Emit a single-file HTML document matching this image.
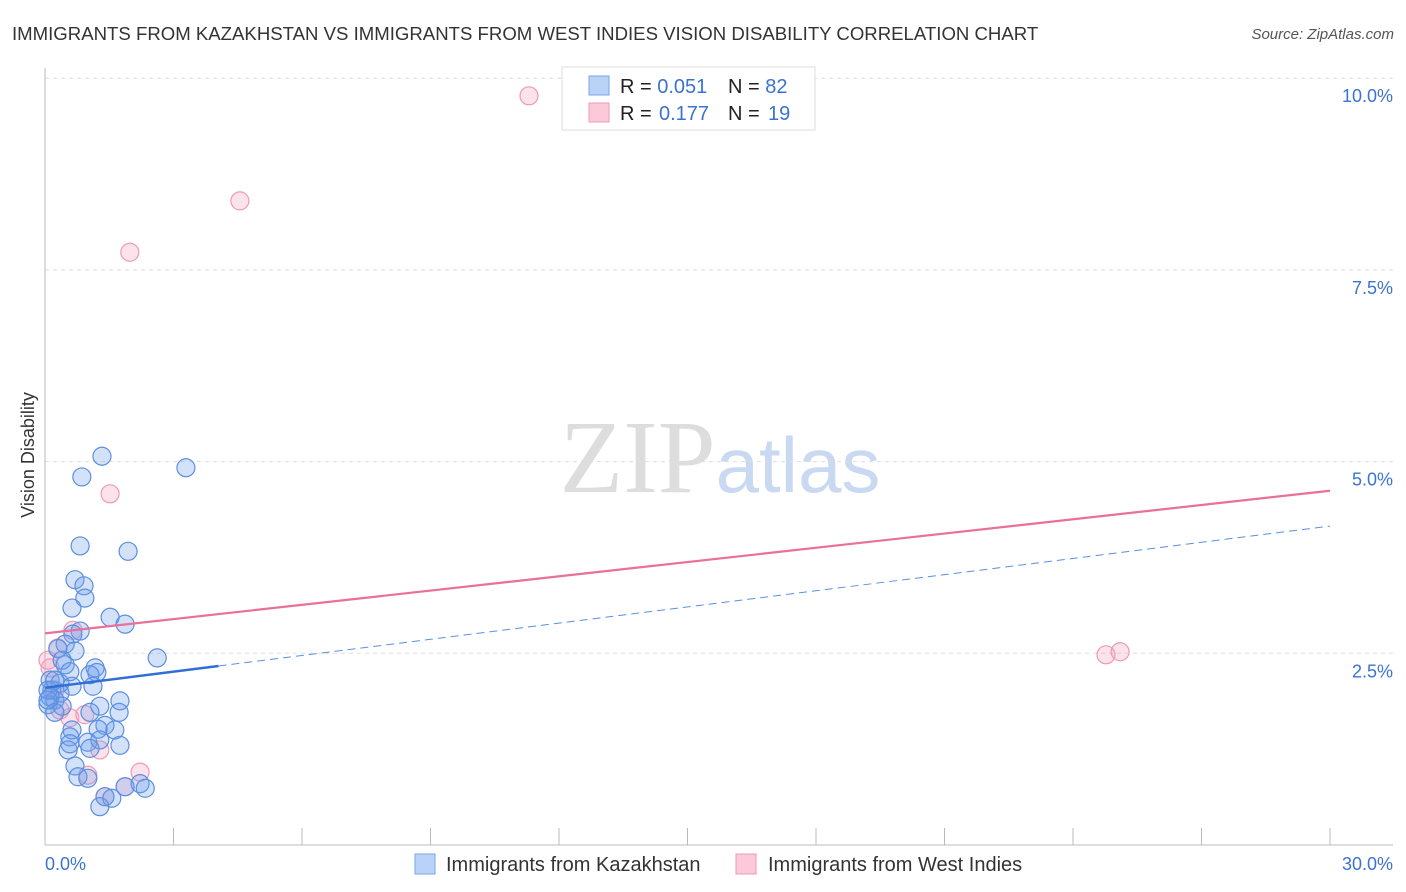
<!DOCTYPE html>
<html><head><meta charset="utf-8"><style>
body{margin:0;background:#fff;font-family:"Liberation Sans",sans-serif;}
svg{display:block}
</style></head><body>
<svg id="chart" width="1406" height="892">
<text x="12" y="40" font-size="18.6" fill="#333">IMMIGRANTS FROM KAZAKHSTAN VS IMMIGRANTS FROM WEST INDIES VISION DISABILITY CORRELATION CHART</text>
<text x="1394" y="39" font-size="15" fill="#555" font-style="italic" text-anchor="end">Source: ZipAtlas.com</text>
<text x="34" y="455" font-size="18" fill="#333" text-anchor="middle" transform="rotate(-90 34 455)">Vision Disability</text>
<text x="720" y="492" font-size="104" fill="#ddd" text-anchor="middle" font-family="Liberation Serif">ZIP<tspan fill="#c9d9f2" font-family="Liberation Sans" font-size="78">atlas</tspan></text>
<g id="grid"></g><g id="pts"></g><g id="lines"></g>
<g>
<rect x="562" y="67" width="253" height="63" fill="#fff" stroke="#ddd"/>
<rect x="589" y="76" width="20" height="19" fill="#b8d3f7" stroke="#7aa6e6"/>
<rect x="589" y="103" width="20" height="19" fill="#fbc9d8" stroke="#ee9ab6"/>
<text x="620" y="93" font-size="20" fill="#222">R = <tspan fill="#3b73d1">0.051</tspan><tspan x="728">N = </tspan><tspan fill="#3b73d1">82</tspan></text>
<text x="620" y="120" font-size="20" fill="#222">R = <tspan fill="#3b73d1" x="659">0.177</tspan><tspan x="728">N = </tspan><tspan fill="#3b73d1" x="768">19</tspan></text>
</g>
<g>
<rect x="415" y="854" width="20" height="20" fill="#b8d3f7" stroke="#7aa6e6"/>
<text x="446" y="871" font-size="20" fill="#333">Immigrants from Kazakhstan</text>
<rect x="736" y="854" width="20" height="20" fill="#fbc9d8" stroke="#ee9ab6"/>
<text x="768" y="871" font-size="20" fill="#333">Immigrants from West Indies</text>
</g>
</svg>
<script>
const yTicks=[2.5,5.0,7.5,10.0];
const xTickLabels=["0.0%","30.0%"];
const blueX=[1.33,0.86,3.29,0.82,1.94,0.70,0.91,0.93,0.63,1.52,1.87,0.82,0.65,0.47,0.70,0.30,2.62,0.47,1.17,1.21,1.05,0.12,0.35,0.63,1.12,0.16,0.35,0.12,0.23,1.75,0.07,0.40,1.28,1.05,1.73,0.23,1.40,1.63,1.24,0.63,0.58,0.58,1.00,1.28,1.75,0.54,1.05,0.70,0.77,1.00,1.87,2.22,2.34,1.40,1.28,1.56,0.07,0.07,0.23,0.40,0.58];
const blueY=[5.07,4.80,4.92,3.90,3.83,3.46,3.38,3.22,3.09,2.97,2.88,2.79,2.75,2.62,2.53,2.56,2.44,2.35,2.31,2.25,2.22,2.15,2.11,2.07,2.07,2.02,1.98,1.93,1.89,1.88,1.83,1.81,1.81,1.73,1.73,1.73,1.56,1.50,1.51,1.50,1.41,1.32,1.34,1.37,1.30,1.24,1.26,1.03,0.89,0.87,0.76,0.80,0.74,0.63,0.50,0.61,2.02,1.89,2.15,2.41,2.26];
const pinkX=[11.30,4.55,1.98,1.52,24.77,25.10,0.65,0.30,0.12,0.23,0.35,0.58,1.28,1.00,2.22,1.87,1.40,0.07,0.93];
const pinkY=[9.77,8.40,7.73,4.58,2.48,2.52,2.80,2.57,2.31,2.02,1.76,1.66,1.24,0.91,0.95,0.76,0.63,2.41,1.70];
const blueTrend=[2.05,0.0703];
const pinkTrend=[2.76,0.062];
const blueSolidEnd=4.05;
const NS="http://www.w3.org/2000/svg";
const X=v=>45+v/30*1285, Y=v=>845-v/2.5*191.7;
function mk(t,a,p){const e=document.createElementNS(NS,t);for(const k in a)e.setAttribute(k,a[k]);document.getElementById(p).appendChild(e);return e;}
yTicks.forEach(t=>{
 const l=mk('line',{x1:45,x2:1393,y1:Y(t),y2:Y(t),stroke:'#ddd','stroke-dasharray':'4,4'},'grid');
 
 
 const tx=mk('text',{x:1393,y:Y(t)+24,'font-size':18,fill:'#3b73d1','text-anchor':'end'},'grid');
 tx.textContent=t.toFixed(1)+'%';
 
 
});
mk('line',{x1:45,x2:45,y1:68,y2:845,stroke:'#bbb'},'grid');
mk('line',{x1:45,x2:1393,y1:845,y2:845,stroke:'#bbb'},'grid');
for(let i=1;i<=10;i++){const tk=mk('line',{x1:X(i*3),x2:X(i*3),y1:828,y2:845,stroke:'#bbb'},'grid');
 
 }
const xl0=mk('text',{x:45,y:870,'font-size':18,fill:'#3b73d1'},'grid');xl0.textContent=xTickLabels[0];


const xl1=mk('text',{x:1393,y:870,'font-size':18,fill:'#3b73d1','text-anchor':'end'},'grid');xl1.textContent=xTickLabels[1];


pinkX.forEach((x,i)=>{const c=mk('circle',{cx:X(x),cy:Y(pinkY[i]),r:9,fill:'rgba(245,160,190,0.3)',stroke:'#ee9ab6','stroke-width':1.2},'pts');
 
 });
blueX.forEach((x,i)=>{const c=mk('circle',{cx:X(x),cy:Y(blueY[i]),r:9,fill:'rgba(110,160,235,0.3)',stroke:'#5b8fe0','stroke-width':1.2},'pts');
 
 });
const by=x=>blueTrend[0]+blueTrend[1]*x, py=x=>pinkTrend[0]+pinkTrend[1]*x;
const b1=mk('line',{x1:X(0),y1:Y(by(0)),x2:X(blueSolidEnd),y2:Y(by(blueSolidEnd)),stroke:'#2f6fd6','stroke-width':2.5},'lines');


const b2=mk('line',{x1:X(blueSolidEnd),y1:Y(by(blueSolidEnd)),x2:X(30),y2:Y(by(30)),stroke:'#5b8fe0','stroke-width':1,'stroke-dasharray':'8,5'},'lines');


const p1=mk('line',{x1:X(0),y1:Y(py(0)),x2:X(30),y2:Y(py(30)),stroke:'#e8709a','stroke-width':2.2},'lines');


</script>
</body></html>
